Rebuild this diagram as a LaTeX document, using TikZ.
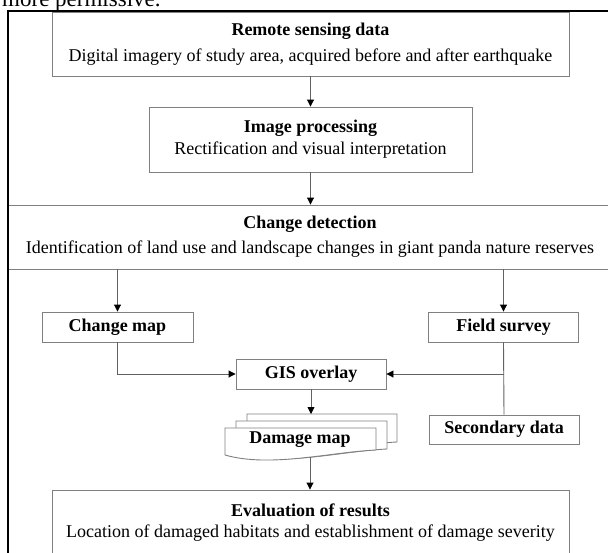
\documentclass[tikz,border=0pt]{standalone}
\usepackage{fontspec}
\setmainfont{Liberation Serif}
\usetikzlibrary{arrows.meta}

\definecolor{boxgray}{gray}{0.5}
\definecolor{linkgray}{gray}{0.38}

\tikzset{
  box/.style={draw=boxgray, line width=0.9pt, fill=white, inner sep=0pt,
    align=center, font=\fontsize{18}{22}\selectfont},
  tag/.style={box, font=\fontsize{18}{22}\selectfont\bfseries},
  link/.style={draw=linkgray, line width=0.9pt},
  flow/.style={link, -{Triangle[length=7pt,width=7pt,color=black]}},
  sheet/.style={draw=boxgray, line width=0.9pt, fill=white},
}

% one page of a stacked document: left x, top y, right x, y of right bottom corner
\newcommand\docsheet[4]{%
  \filldraw[sheet] (#1,#2) -- (#3,#2) -- (#3,#4)
    .. controls ({#3-0.3*(#3-#1)},{#4+2}) and ({#1+0.3*(#3-#1)},{#4+18}) ..
    (#1,{#4+5}) -- cycle;}

\begin{document}
\begin{tikzpicture}[x=1pt,y=-1pt]
\useasboundingbox (0,0) rectangle (608,552);
\clip (0,0) rectangle (608,552);

% running text of the page above the figure
\node[anchor=base west, inner sep=0pt, font=\fontsize{23}{28}\selectfont]
  (prose) at (2,6.5) {more permissive.};

% main stages
\node[box, minimum width=517pt, minimum height=64pt] (rs) at (310.5,44)
  {\textbf{Remote sensing data}\\[4pt]
   Digital imagery of study area, acquired before and after earthquake};
\node[box, minimum width=323pt, minimum height=65pt] (ip) at (310.5,139.5)
  {\textbf{Image processing}\\[0pt]
   Rectification and visual interpretation};
\node[box, minimum width=604pt, minimum height=64pt] (cd) at (310,237)
  {\textbf{Change detection}\\[3pt]
   Identification of land use and landscape changes in giant panda nature reserves};

\node[tag, minimum width=151pt, minimum height=30pt] (cmap) at (117.5,327) {Change map};
\node[tag, minimum width=150pt, minimum height=30pt] (field) at (503.5,327) {Field survey};
\node[tag, minimum width=150pt, minimum height=30pt] (gis) at (311,374) {GIS overlay};
\node[tag, minimum width=150pt, minimum height=29pt] (sec) at (504,429.5) {Secondary data};

\node[box, minimum width=517pt, minimum height=66pt] (eval) at (310.5,523)
  {\textbf{Evaluation of results}\\[-1pt]
   Location of damaged habitats and establishment of damage severity};

% damage map: a stack of three sheets
\docsheet{247}{414}{397}{442}
\docsheet{236}{421}{387}{449}
\docsheet{225}{428}{376}{450}
\node[font=\fontsize{18}{22}\selectfont\bfseries, inner sep=0pt] (dmg) at (300,440) {Damage map};
\coordinate (dmgtop) at (311,414);
\coordinate (dmgbot) at (310,457);

% connectors
\draw[flow] (rs.south) -- (rs.south |- ip.north);
\draw[flow] (ip.south) -- (ip.south |- cd.north);
\draw[flow] (cmap.north |- cd.south) -- (cmap.north);
\draw[flow] (field.north |- cd.south) -- (field.north);
\draw[flow] (cmap.south) |- (gis.west);
\coordinate (tee) at (field.south |- gis.east);
\draw[link] (field.south) -- (sec.north);
\draw[flow] (tee) -- (gis.east);
\draw[flow] (gis.south) -- (dmgtop);
\draw[flow] (dmgbot) -- (dmgbot |- eval.north);

% outer frame
\draw[line width=1.6pt] (8,570) -- (8,11) -- (620,11);
\end{tikzpicture}
\end{document}
